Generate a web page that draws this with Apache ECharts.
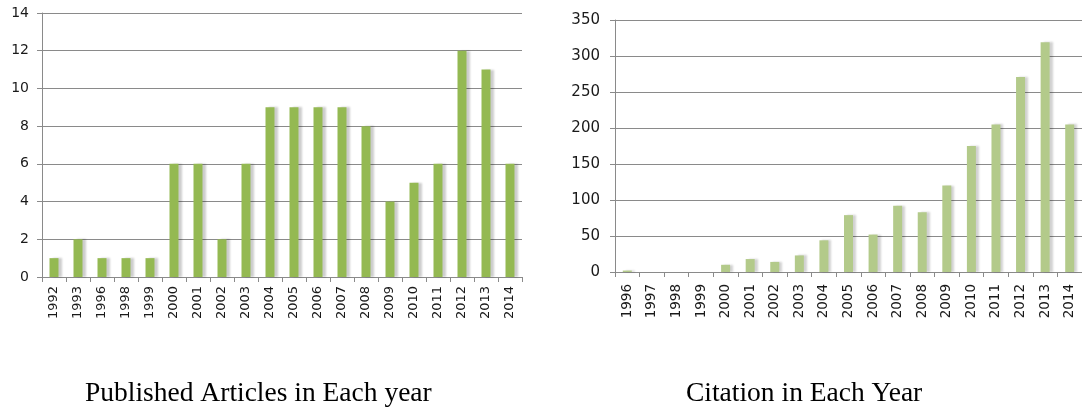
<!DOCTYPE html>
<html>
<head>
<meta charset="utf-8">
<script src="https://cdn.jsdelivr.net/npm/echarts@6/dist/echarts.min.js"></script>
<style>
  html, body { margin: 0; padding: 0; background: #fff; }
  #main { width: 1082px; height: 412px; }
</style>
</head>
<body>
<div id="main"></div>
<script>
// 左图：每年发表文章数
var articleYears = ['1992', '1993', '1996', '1998', '1999', '2000', '2001', '2002', '2003', '2004',
  '2005', '2006', '2007', '2008', '2009', '2010', '2011', '2012', '2013', '2014'];
var articleCounts = [1, 2, 1, 1, 1, 6, 6, 2, 6, 9, 9, 9, 9, 8, 4, 5, 6, 12, 11, 6];

// 右图：每年引用数
var citationYears = ['1996', '1997', '1998', '1999', '2000', '2001', '2002', '2003', '2004', '2005',
  '2006', '2007', '2008', '2009', '2010', '2011', '2012', '2013', '2014'];
var citationCounts = [2, 0, 0, 0, 10, 18, 14, 23, 44, 79, 52, 92, 83, 120, 175, 205, 271, 319, 205];

var leftTitle = 'Published Articles in Each year';
var rightTitle = 'Citation in Each Year';

var gridColor = '#8a8a8a';
var labelFont = 'DejaVu Sans';

function catAxis(idx, data, fontSize, margin) {
  return {
    type: 'category',
    gridIndex: idx,
    data: data,
    boundaryGap: true,
    axisLine: { lineStyle: { color: gridColor, width: 1 } },
    axisTick: { show: true, length: 5, alignWithLabel: false, lineStyle: { color: gridColor } },
    axisLabel: {
      rotate: 90,
      interval: 0,
      margin: margin,
      color: '#1a1a1a',
      fontSize: fontSize,
      fontFamily: labelFont
    }
  };
}

function valAxis(idx, max, interval, fontSize, margin) {
  return {
    type: 'value',
    gridIndex: idx,
    min: 0,
    max: max,
    interval: interval,
    axisLine: { show: true, lineStyle: { color: gridColor, width: 1 } },
    axisTick: { show: true, length: 5, lineStyle: { color: gridColor } },
    splitLine: { show: true, lineStyle: { color: gridColor, width: 1 } },
    axisLabel: {
      margin: margin,
      color: '#1a1a1a',
      fontSize: fontSize,
      fontFamily: labelFont
    }
  };
}

var chart = echarts.init(document.getElementById('main'), null, { renderer: 'canvas' });

var option = {
  backgroundColor: '#fff',
  animation: false,
  grid: [
    { left: 42, top: 13, width: 480, height: 264 },
    { left: 615, top: 20, width: 469, height: 252 }
  ],
  xAxis: [catAxis(0, articleYears, 13, 9), catAxis(1, citationYears, 13.5, 12)],
  yAxis: [valAxis(0, 14, 2, 14, 13), valAxis(1, 350, 50, 15, 15)],
  graphic: [
    {
      type: 'text', left: 85, top: 380,
      style: { text: leftTitle, font: '27.5px "Liberation Serif"', fill: '#000' }
    },
    {
      type: 'text', left: 686, top: 380,
      style: { text: rightTitle, font: '27.5px "Liberation Serif"', fill: '#000' }
    }
  ],
  series: [
    {
      type: 'bar',
      xAxisIndex: 0,
      yAxisIndex: 0,
      data: articleCounts,
      barWidth: 9,
      itemStyle: {
        color: '#94b952',
        shadowColor: 'rgba(0,0,0,0.2)',
        shadowBlur: 2,
        shadowOffsetX: 3
      }
    },
    {
      type: 'bar',
      xAxisIndex: 1,
      yAxisIndex: 1,
      data: citationCounts,
      barWidth: 9,
      itemStyle: {
        color: '#b3ca8a',
        shadowColor: 'rgba(0,0,0,0.18)',
        shadowBlur: 2,
        shadowOffsetX: 3
      }
    }
  ]
};

chart.setOption(option);
</script>
</body>
</html>
